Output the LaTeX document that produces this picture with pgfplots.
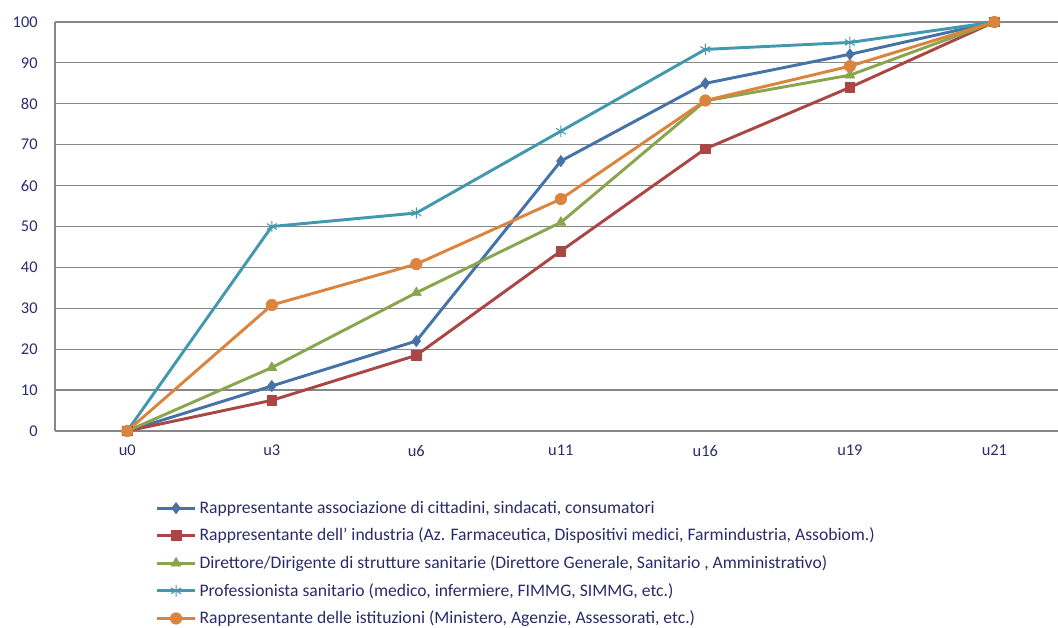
\documentclass[border=0pt]{standalone}
\usepackage{fontspec}
\setmainfont{Carlito}
\usepackage{pgfplots}
\pgfplotsset{compat=1.18}
\definecolor{cblue}{HTML}{4572A7}
\definecolor{cred}{HTML}{AA4643}
\definecolor{cgreen}{HTML}{89A54E}
\definecolor{cteal}{HTML}{4198AF}
\definecolor{corange}{HTML}{DB843D}
\definecolor{cgrid}{HTML}{878787}
\definecolor{ctext}{HTML}{2B2B6B}
\begin{document}
\begin{tikzpicture}
\useasboundingbox (0pt,0pt) rectangle (793.5pt,471pt);
\begin{axis}[
  at={(41.25pt,147.75pt)}, anchor=south west,
  scale only axis,
  width=752.25pt, height=306.75pt,
  xmin=-0.5, xmax=6.44,
  ymin=0, ymax=100,
  ytick={0,10,...,100},
  xtick={0,1,2,3,4,5,6},
  xticklabels={u0,u3,u6,u11,u16,u19,u21},
  ymajorgrids,
  major grid style={cgrid, line width=0.9pt},
  axis line style={cgrid, line width=0.9pt},
  axis x line*=bottom,
  axis y line*=left,
  x axis line style={-},
  y axis line style={-},
  major tick style={draw=none},
  ticklabel style={font=\fontsize{12.3}{14}\selectfont, text=ctext},
  /pgf/number format/assume math mode=true,
  yticklabel style={xshift=-9.5pt},
  xticklabel style={yshift=-7pt},
  every axis plot/.append style={line width=2.2pt, line join=round},
  legend cell align=left,
  legend style={at={(0.0997,-0.164)}, anchor=north west, draw=none, fill=none,
    font=\fontsize{13.2}{15}\selectfont, text=ctext, row sep=5.6pt, inner sep=0pt},
  legend image code/.code={
    \draw[#1, mark repeat=2, mark phase=2] plot coordinates {(0pt,0pt) (14.5pt,0pt) (29pt,0pt)};
  },
  clip=false,
]
\addplot[cblue, mark=diamond*, mark size=4.2pt, mark options={solid, line width=0.5pt}] coordinates {
(0,0) (1,11) (2,22) (3,66) (4,85) (5,92.1) (6,100)};
\addlegendentry{Rappresentante associazione di cittadini, sindacati, consumatori}
\addplot[cred, mark=square*, mark size=3.6pt, mark options={solid, line width=0.5pt}] coordinates {
(0,0) (1,7.5) (2,18.5) (3,44) (4,69) (5,84) (6,100)};
\addlegendentry{Rappresentante dell' industria (Az. Farmaceutica, Dispositivi medici, Farmindustria, Assobiom.)}
\addplot[cgreen, mark=triangle*, mark size=4.3pt, mark options={solid, line width=0.5pt}] coordinates {
(0,0) (1,15.5) (2,33.8) (3,51) (4,80.7) (5,87) (6,100)};
\addlegendentry{Direttore/Dirigente di strutture sanitarie (Direttore Generale, Sanitario , Amministrativo)}
\addplot[cteal, mark=asterisk, mark size=4.3pt, mark options={solid, line width=0.8pt}] coordinates {
(0,0) (1,50) (2,53.3) (3,73.3) (4,93.3) (5,95) (6,100)};
\addlegendentry{Professionista sanitario (medico, infermiere, FIMMG, SIMMG, etc.)}
\addplot[corange, mark=*, mark size=4.3pt, mark options={solid, line width=0.5pt}] coordinates {
(0,0) (1,30.8) (2,40.8) (3,56.7) (4,80.8) (5,89.2) (6,100)};
\addlegendentry{Rappresentante delle istituzioni (Ministero, Agenzie, Assessorati, etc.)}
\end{axis}
\end{tikzpicture}
\end{document}
